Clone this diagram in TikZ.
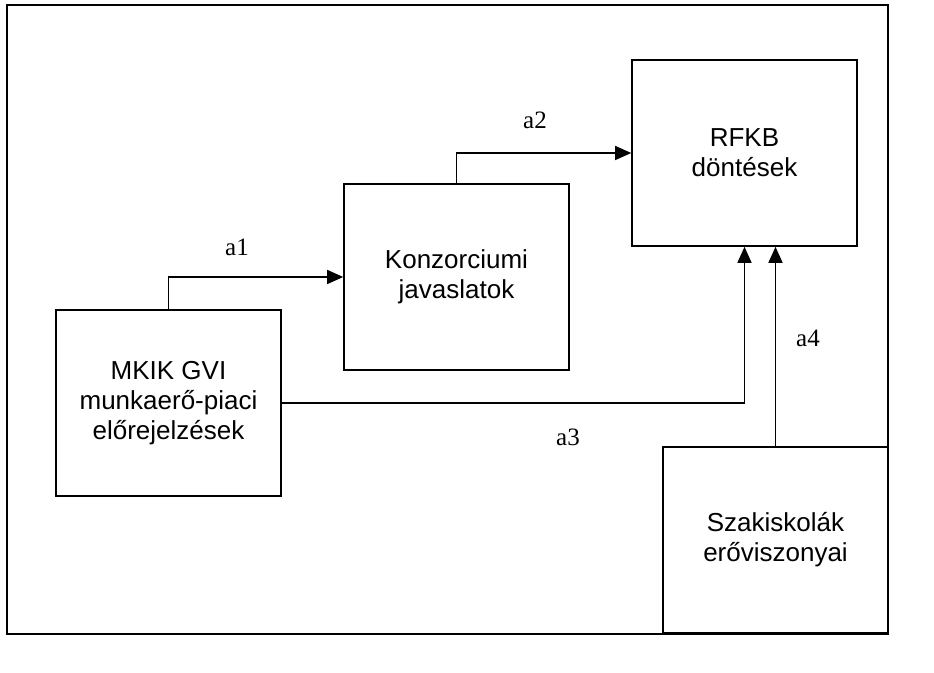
\documentclass[tikz,border=0pt]{standalone}
\usepackage{fontspec}
\setmainfont{Liberation Serif}
\setsansfont{Liberation Sans}
\usetikzlibrary{arrows.meta}
\begin{document}
\begin{tikzpicture}[x=1pt,y=1pt,
  blk/.style={draw,line width=1.6pt,minimum width=225pt,minimum height=186pt,
    inner sep=0pt,align=center,font=\sffamily\fontsize{26}{30}\selectfont},
  conn/.style={line width=1.5pt,-{Triangle[length=16pt,width=14pt]}},
  lbl/.style={inner sep=0pt,font=\rmfamily\fontsize{25}{28}\selectfont}]
\useasboundingbox (0,0) rectangle (934,672);
\draw[line width=1.8pt] (7,38) rectangle (888,667);
\node[blk] (mkik) at (168.5,269) {MKIK GVI\\munkaerő-piaci\\előrejelzések};
\node[blk] (konz) at (456.5,395) {Konzorciumi\\javaslatok};
\node[blk] (rfkb) at (744.5,519) {RFKB\\döntések};
\node[blk] (szak) at (775.5,132) {Szakiskolák\\erőviszonyai};
\draw[conn] (mkik.north) |- (konz.west);
\draw[conn] (konz.north) |- (rfkb.west);
\draw[conn] (mkik.east) -| (rfkb.south);
\coordinate (a4end) at (szak.north |- rfkb.south);
\draw[conn] (szak.north) -- (a4end);
\node[lbl] (la1) at (237,425) {a1};
\node[lbl] (la2) at (535,552) {a2};
\node[lbl] (la3) at (568,235) {a3};
\node[lbl] (la4) at (808,334) {a4};
\end{tikzpicture}
\end{document}
